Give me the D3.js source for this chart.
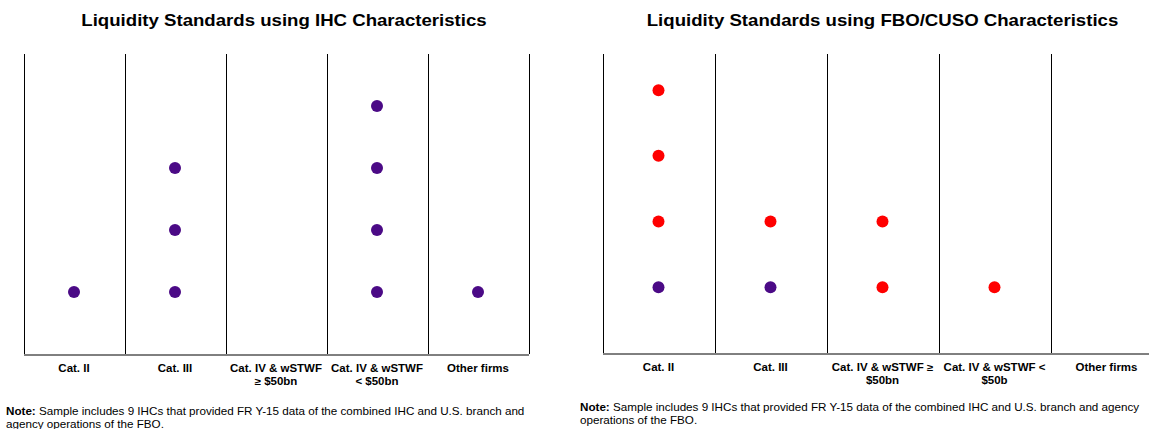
<!DOCTYPE html>
<html>
<head>
<meta charset="utf-8">
<script src="https://cdn.jsdelivr.net/npm/d3@7"></script>
<style>
	body { margin: 0; background: #fff; }
	text { font-family: "Liberation Sans", Arial, sans-serif; fill: #000; }
</style>
</head>
<body>
<svg id="chart" width="1149" height="429"></svg>
<script>
// Category labels (one entry per line of the label)
var ihcCategories = [
	["Cat. II"],
	["Cat. III"],
	["Cat. IV & wSTWF", "≥ $50bn"],
	["Cat. IV & wSTWF", "< $50bn"],
	["Other firms"]
];
var fboCategories = [
	["Cat. II"],
	["Cat. III"],
	["Cat. IV & wSTWF ≥", "$50bn"],
	["Cat. IV & wSTWF <", "$50b"],
	["Other firms"]
];

// Number of firms per category
var ihcFirms      = [1, 3, 0, 4, 1];
var fboSameFirms  = [1, 1, 0, 0, 0];   // purple dots
var fboMovedFirms = [3, 1, 2, 1, 0];   // red dots

var ihcTitle = "Liquidity Standards using IHC Characteristics";
var fboTitle = "Liquidity Standards using FBO/CUSO Characteristics";
var noteLeft  = [" Sample includes 9 IHCs that provided FR Y-15 data of the combined IHC and U.S. branch and", "agency operations of the FBO."];
var noteRight = [" Sample includes 9 IHCs that provided FR Y-15 data of the combined IHC and U.S. branch and agency", "operations of the FBO."];

var PURPLE = "#4b0a86";
var RED = "#ff0000";
// the original picture is a bit wider than tall, text is stretched horizontally
var STRETCH = 1.15;

var svg = d3.select("#chart");

/*
 * Draw one panel
 */
function drawPanel (opts) {
	var g = svg.append("g");
	var names = opts.categories.map(function (c) { return c.join(" "); });

	var x = d3.scaleBand().domain(names).range(opts.xRange).padding(0);
	var y = d3.scaleLinear().domain([0, opts.yMax]).range([opts.bottom, opts.top]);

	// title
	g.append("text")
		.attr("transform", "translate(" + opts.titleX + ",26) scale(" + STRETCH + ",1)")
		.attr("text-anchor", "middle")
		.style("font-size", "16.2px")
		.style("font-weight", "bold")
		.text(opts.title);

	// vertical separators
	var edges = names.map(function (n) { return x(n); });
	edges.push(x(names[names.length - 1]) + x.bandwidth());
	g.selectAll("line.sep")
		.data(edges)
		.enter().append("line")
		.attr("class", "sep")
		.attr("x1", function (d) { return Math.round(d) + 0.5; })
		.attr("x2", function (d) { return Math.round(d) + 0.5; })
		.attr("y1", y(opts.yMax))
		.attr("y2", y(0))
		.attr("stroke", "#000")
		.attr("stroke-width", 1);

	// baseline + category labels via axis
	var axis = g.append("g")
		.attr("transform", "translate(0," + (Math.round(y(0)) + 0.5) + ")")
		.call(d3.axisBottom(x).tickSize(0).tickSizeOuter(0).tickFormat(""));
	axis.select(".domain").attr("stroke", "#000");

	axis.selectAll(".tick text").remove();
	axis.selectAll(".tick").each(function (d, i) {
		var t = d3.select(this).append("text")
			.attr("text-anchor", "middle")
			.attr("transform", "translate(0,17.5) scale(" + STRETCH + ",1)")
			.style("font-size", "10px")
			.style("font-weight", "bold");
		opts.categories[i].forEach(function (line, k) {
			t.append("tspan").attr("x", 0).attr("dy", k === 0 ? 0 : 13).text(line);
		});
	});

	// dots (stacked from the bottom: purple first, then red)
	var dots = [];
	names.forEach(function (n, i) {
		var level = 1;
		for (var a = 0; a < opts.purple[i]; a++) dots.push({ cat: n, level: level++, color: PURPLE });
		for (var b = 0; b < opts.red[i]; b++) dots.push({ cat: n, level: level++, color: RED });
	});
	g.selectAll("circle")
		.data(dots)
		.enter().append("circle")
		.attr("cx", function (d) { return x(d.cat) + x.bandwidth() / 2; })
		.attr("cy", function (d) { return y(d.level); })
		.attr("r", 6)
		.attr("fill", function (d) { return d.color; });

	// note
	var note = svg.append("text")
		.attr("transform", "translate(" + opts.noteX + "," + opts.noteY + ") scale(1.1,1)")
		.style("font-size", "10.6px");
	var first = note.append("tspan").attr("x", 0);
	first.append("tspan").style("font-weight", "bold").text("Note:");
	first.append("tspan").text(opts.note[0]);
	note.append("tspan").attr("x", 0).attr("dy", 13).text(opts.note[1]);
}

drawPanel({
	categories: ihcCategories,
	purple: ihcFirms,
	red: [0, 0, 0, 0, 0],
	title: ihcTitle, titleX: 284,
	xRange: [23.5, 528.5],
	top: 54, bottom: 354, yMax: 4.84,
	note: noteLeft, noteX: 6, noteY: 415
});

drawPanel({
	categories: fboCategories,
	purple: fboSameFirms,
	red: fboMovedFirms,
	title: fboTitle, titleX: 882.5,
	xRange: [602.5, 1162.5],
	top: 54, bottom: 353, yMax: 4.55,
	note: noteRight, noteX: 580, noteY: 411
});
</script>
</body>
</html>
